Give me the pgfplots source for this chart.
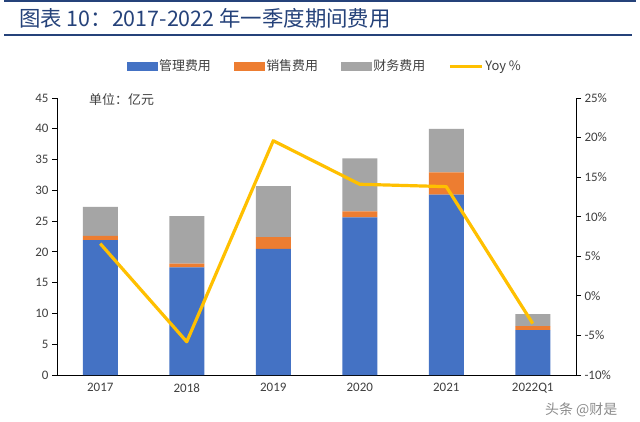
\documentclass[border=0pt]{standalone}
\usepackage{fontspec}
\setmainfont{Carlito}
\newfontfamily\cjk{Noto Sans CJK SC}
\usepackage{pgfplots}
\pgfplotsset{compat=1.18}
\definecolor{cblue}{HTML}{4472C4}
\definecolor{corange}{HTML}{ED7D31}
\definecolor{cgray}{HTML}{A5A5A5}
\definecolor{cyellow}{HTML}{FFC000}
\definecolor{ctitle}{HTML}{25427A}
\definecolor{ctext}{HTML}{404040}
\pgfplotstableread{
x  adm   sale  fin
0  21.9  0.7   4.7
1  17.5  0.6   7.7
2  20.5  1.9   8.3
3  25.6  1.0   8.6
4  29.3  3.6   7.1
5  7.3   0.65  1.95
}\costs
\begin{document}
\begin{tikzpicture}[x=1bp,y=1bp]
\useasboundingbox (0,0) rectangle (640,421);
\fill[white] (0,0) rectangle (640,421);
\draw[ctitle, line width=1.3bp] (4,420) -- (636,420);
\draw[ctitle, line width=1.3bp] (4,386) -- (632,386);
\node[anchor=west, text=ctitle, inner sep=0pt, font=\cjk\fontsize{21.5}{24}\selectfont] at (19,403) {图表 10：2017-2022 年一季度期间费用};
\begin{axis}[
  at={(57bp,46bp)}, anchor=south west, width=519bp, height=277bp, scale only axis,
  xmin=-0.5, xmax=5.5, ymin=0, ymax=45, ytick={0,5,...,45},
  axis y line*=left, axis x line*=bottom,
  xtick={0,...,5}, xticklabels={2017,2018,2019,2020,2021,2022Q1},
  xtick style={draw=none},
  minor xtick={0.5,1.5,2.5,3.5,4.5},
  minor tick length=5bp, major tick length=5bp, tick align=outside,
  tick style={black, line width=0.8bp}, axis line style={black, line width=0.8bp},
  ticklabel style={font=\fontsize{13}{15}\selectfont, text=ctext},
  /pgf/number format/assume math mode=true,
  ybar stacked, bar width=35bp,
  clip=false,
]
\addplot[fill=cblue, draw=none] table[x=x, y=adm] {\costs};
\addplot[fill=corange, draw=none] table[x=x, y=sale] {\costs};
\addplot[fill=cgray, draw=none] table[x=x, y=fin] {\costs};
\end{axis}
\begin{axis}[
  at={(57bp,46bp)}, anchor=south west, width=519bp, height=277bp, scale only axis,
  xmin=-0.5, xmax=5.5, ymin=-10, ymax=25, ytick={-10,-5,...,25},
  axis y line*=right, axis x line=none,
  major tick length=5bp, tick align=outside,
  tick style={black, line width=0.8bp}, axis line style={black, line width=0.8bp},
  ticklabel style={font=\fontsize{13}{15}\selectfont, text=ctext},
  /pgf/number format/assume math mode=true,
  yticklabel={\pgfmathprintnumber{\tick}\%},
  legend columns=4,
  legend style={at={(0.516,1.115)}, anchor=center, draw=none, fill=none,
    font=\cjk\fontsize{13}{14}\selectfont, text=ctext,
    /tikz/every even column/.append style={column sep=21bp}},
  clip=false,
]
\addlegendimage{legend image code/.code={\fill[cblue] (0bp,-4bp) rectangle (30bp,4bp);}}
\addlegendentry{管理费用}
\addlegendimage{legend image code/.code={\fill[corange] (0bp,-4bp) rectangle (30bp,4bp);}}
\addlegendentry{销售费用}
\addlegendimage{legend image code/.code={\fill[cgray] (0bp,-4bp) rectangle (30bp,4bp);}}
\addlegendentry{财务费用}
\addplot[cyellow, line width=3.2bp, line join=round, mark=none,
  legend image code/.code={\draw[cyellow, line width=3bp] (0bp,0bp) -- (32bp,0bp);}]
  coordinates {(0,6.6) (1,-5.8) (2,19.6) (3,14.1) (4,13.8) (5,-3.5)};
\addlegendentry{Yoy \%}
\end{axis}
\node[anchor=west, inner sep=0pt, text=ctext, font=\cjk\fontsize{13}{15}\selectfont] at (89,321) {单位：亿元};
\node[anchor=west, inner sep=0pt, text=gray!90, font=\cjk\fontsize{14}{16}\selectfont] at (545,11) {头条 @财是};
\end{tikzpicture}
\end{document}
